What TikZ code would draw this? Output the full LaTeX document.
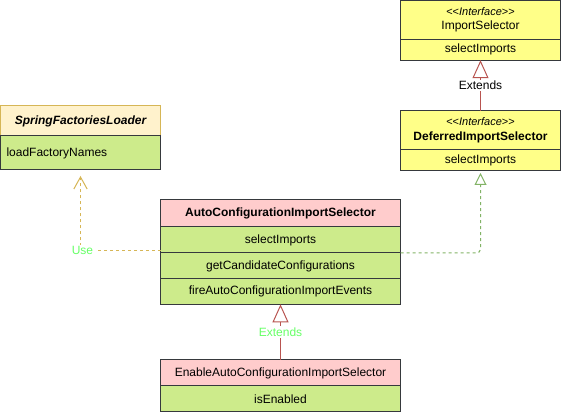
\documentclass[tikz,border=0pt]{standalone}
\usepackage{fontspec}
\setmainfont{Liberation Sans}
\usetikzlibrary{positioning,arrows.meta}
\definecolor{boxline}{HTML}{36393D}
\definecolor{ifyellow}{HTML}{FFFF88}
\definecolor{methgreen}{HTML}{CDEB8B}
\definecolor{pinkhead}{HTML}{FFCCCC}
\definecolor{loaderhead}{HTML}{FFF2CC}
\definecolor{loaderline}{HTML}{D6B656}
\definecolor{extline}{HTML}{B85450}
\definecolor{implline}{HTML}{82B366}
\definecolor{lbltext}{HTML}{66FF66}
\newcommand\stereotype[1]{{\fontsize{8.25}{9.5}\selectfont <\kern0pt<\textit{#1}>\kern0pt>}}
\begin{document}
\begin{tikzpicture}[
		x=0.75pt, y=-0.75pt,
		font=\fontsize{9}{11}\selectfont,
		box/.style={draw=boxline, line width=0.75pt, inner sep=0pt, outer sep=0pt},
		narrow/.style={box, minimum width=120pt},
		wide/.style={box, minimum width=180pt},
		method/.style={fill=methgreen},
		iface/.style={fill=ifyellow, align=center},
		cls/.style={fill=pinkhead, font=\fontsize{9}{11}\selectfont\bfseries},
		lbl/.style={fill=white, inner sep=1pt},
		extends/.style={draw=extline, line width=0.75pt, -{Triangle[open, length=13.5pt, width=12pt]}},
		realizes/.style={draw=implline, line width=0.75pt, dash pattern=on 2.25pt off 2.25pt, rounded corners=3pt,
				-{Triangle[open, length=9pt, width=9pt]}, shorten >=1.5pt},
		uses/.style={draw=loaderline, line width=0.75pt, dash pattern=on 2.25pt off 2.25pt,
				-{Straight Barb[length=9pt, width=10pt]}, shorten >=4.5pt}
	]
	\useasboundingbox (0,0) rectangle (561,416);

	% interfaces on the right
	\node[narrow, iface, minimum height=29pt, anchor=north west] (ish) at (400.5,0.5)
	{\stereotype{Interface}\\ImportSelector};
	\node[narrow, iface, minimum height=15.75pt, below=0pt of ish] (ism) {selectImports};

	\node[narrow, iface, minimum height=29.25pt, anchor=north west] (dih) at (400.5,111)
	{\stereotype{Interface}\\\textbf{DeferredImportSelector}};
	\node[narrow, iface, minimum height=15.75pt, below=0pt of dih] (dim) {selectImports};

	% loader
	\node[narrow, draw=loaderline, fill=loaderhead, minimum height=22.5pt, anchor=north west,
		font=\fontsize{9}{11}\selectfont\bfseries\itshape] (sfh) at (0.5,106) {SpringFactoriesLoader};
	\node[narrow, method, minimum height=25.5pt, below=0pt of sfh, text width=111pt, align=left] (sfm) {loadFactoryNames};

	% selector classes
	\node[wide, cls, minimum height=20.25pt, anchor=north west] (ach) at (160.5,200) {AutoConfigurationImportSelector};
	\node[wide, method, minimum height=19.5pt, below=0pt of ach] (ac1) {selectImports};
	\node[wide, method, minimum height=19.5pt, below=0pt of ac1] (ac2) {getCandidateConfigurations};
	\node[wide, method, minimum height=19pt, below=0pt of ac2] (ac3) {fireAutoConfigurationImportEvents};

	\node[wide, cls, font=\fontsize{9}{11}\selectfont, minimum height=19.5pt, anchor=north west] (eah) at (160.5,360)
	{EnableAutoConfigurationImportSelector};
	\node[wide, method, minimum height=19.5pt, below=0pt of eah] (eam) {isEnabled};

	% connectors
	\draw[extends] (dih.north) -- node[lbl]{Extends} (ism.south);
	\draw[extends] (eah.north) -- node[lbl, text=lbltext]{Extends} (ac3.south);
	\draw[realizes] (ac1.south east) -| (dim.south);
	\draw[uses] ([yshift=2pt]ac1.south west) -| node[lbl, pos=0.5, text=lbltext, xshift=1.5pt]{Use} (sfm.south);
\end{tikzpicture}
\end{document}
